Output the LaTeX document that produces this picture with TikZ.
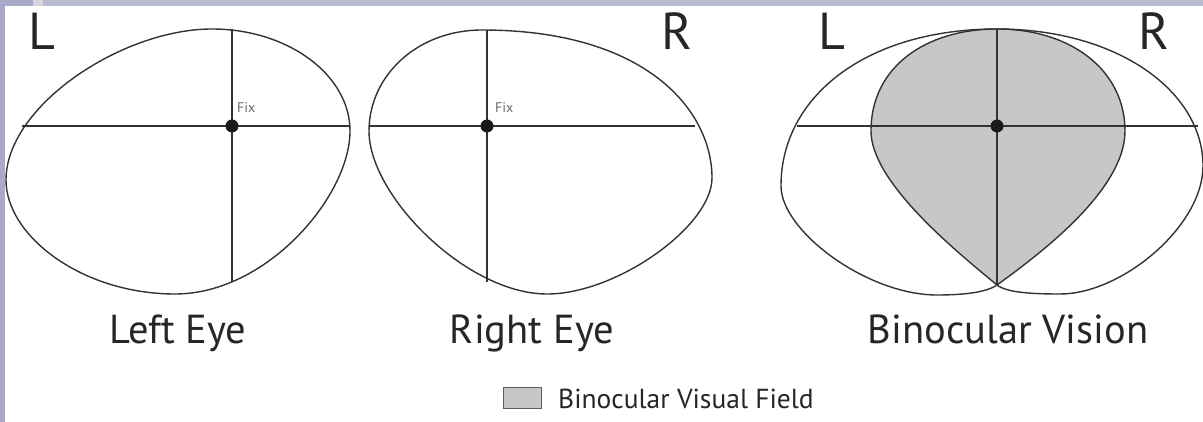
\documentclass[tikz,border=0pt]{standalone}
\usepackage{fontspec}
\setmainfont{PT Sans}
\definecolor{linec}{HTML}{333333}
\definecolor{textc}{HTML}{262626}
\definecolor{shadec}{HTML}{C6C7C9}
\definecolor{bandtop}{HTML}{B9B9D1}
\definecolor{bandleft}{HTML}{A9A9C8}
\definecolor{bandlight}{HTML}{D6D6E2}
\tikzset{
  outl/.style={draw=linec, line width=1.4pt},
  axisline/.style={draw=linec, line width=1.6pt},
  fixdot/.style={circle, fill=black!90, draw=none, inner sep=0pt, minimum size=13pt},
  fixlbl/.style={font=\fontsize{14}{14}\selectfont, text=gray!85!black, inner sep=0pt, anchor=base west},
  biglbl/.style={font=\fontsize{52}{52}\selectfont, text=textc, inner sep=0pt, anchor=base west},
  caplbl/.style={font=\fontsize{40.5}{40.5}\selectfont, text=textc, inner sep=0pt, anchor=base},
  leglbl/.style={font=\fontsize{27.5}{27.5}\selectfont, text=textc, inner sep=0pt, anchor=base west},
}
% eye outlines, local coordinates (fixation at origin, y downwards)
\def\lefteyeA{(-20,-97) .. controls (56,-97) and (118,-51) .. (118,5)
  .. controls (118,70) and (35,168) .. (-57,168)
  .. controls (-150,168) and (-226,110) .. (-226,54)
  .. controls (-226,-20) and (-110,-97) .. (-20,-97) -- cycle}
\def\righteyeA{(-5,-96) .. controls (-70,-96) and (-118,-50) .. (-118,5)
  .. controls (-118,70) and (-20,168) .. (60,168)
  .. controls (130,168) and (225,100) .. (225,52)
  .. controls (225,-15) and (160,-96) .. (-5,-96) -- cycle}
\def\lefteyeB{(0,-97) .. controls (75,-97) and (128,-55) .. (128,5)
  .. controls (128,65) and (40,130) .. (0,159)
  .. controls (-12,167.5) and (-40,169) .. (-60,169)
  .. controls (-130,169) and (-216,105) .. (-216,60)
  .. controls (-216,-30) and (-130,-97) .. (0,-97) -- cycle}
\def\righteyeB{(0,-97) .. controls (120,-97) and (206,-35) .. (206,40)
  .. controls (206,100) and (125,168) .. (63,168)
  .. controls (38,168) and (10,167) .. (0,159)
  .. controls (-45,122) and (-126,55) .. (-126,5)
  .. controls (-126,-60) and (-70,-97) .. (0,-97) -- cycle}
\begin{document}
\begin{tikzpicture}[x=1pt,y=-1pt]
\useasboundingbox (0,0) rectangle (1203,422);
\fill[white] (0,0) rectangle (1203,422);
% frame bands
\fill[bandtop] (0,0) rectangle (1203,6);
\fill[bandleft] (0,0) rectangle (5,422);
\fill[bandleft] (0,0) rectangle (33,6);
\fill[bandlight] (33,0) rectangle (43,6);

% ---- Left eye ----
\begin{scope}[shift={(232,126)}]
  \draw[outl] \lefteyeA;
  \coordinate (l1) at (-210,0); \coordinate (r1) at (117.5,0);
  \coordinate (t1) at (0,-96.5); \coordinate (b1) at (0,156);
  \draw[axisline] (l1) -- (r1);
  \draw[axisline] (t1) -- (b1);
  \node[fixdot] (fix1) at (0,0) {};
  \node[fixlbl] (fixt1) at (5,-13) {Fix};
\end{scope}
\node[biglbl] (L1) at (28,50) {L};
\node[caplbl] (cap1) at (178,343) {Left Eye};

% ---- Right eye ----
\begin{scope}[shift={(487,126)}]
  \draw[outl] \righteyeA;
  \coordinate (l2) at (-117.5,0); \coordinate (r2) at (208,0);
  \coordinate (t2) at (0,-96); \coordinate (b2) at (0,156);
  \draw[axisline] (l2) -- (r2);
  \draw[axisline] (t2) -- (b2);
  \node[fixdot] (fix2) at (0,0) {};
  \node[fixlbl] (fixt2) at (8,-13) {Fix};
\end{scope}
\node[biglbl] (R2) at (661,50) {R};
\node[caplbl] (cap2) at (532,343) {Right Eye};

% ---- Binocular ----
\begin{scope}[shift={(997,126)}]
  \begin{scope}
    \clip \lefteyeB;
    \fill[shadec] \righteyeB;
  \end{scope}
  \draw[outl] \lefteyeB;
  \draw[outl] \righteyeB;
  \coordinate (l3) at (-200,0); \coordinate (r3) at (201,0);
  \coordinate (t3) at (0,-97); \coordinate (b3) at (0,159);
  \draw[axisline] (l3) -- (r3);
  \draw[axisline] (t3) -- (b3);
  \node[fixdot] (fix3) at (0,0) {};
\end{scope}
\node[biglbl] (L3) at (818,50) {L};
\node[biglbl] (R3) at (1138,50) {R};
\node[caplbl] (cap3) at (1008,343) {Binocular Vision};

% ---- Legend ----
\node[draw=linec!80, line width=1pt, fill=shadec, minimum width=38pt, minimum height=21pt, inner sep=0pt] (legbox) at (522,397.5) {};
\node[leglbl] (legtxt) at (558,408) {Binocular Visual Field};
\end{tikzpicture}
\end{document}
